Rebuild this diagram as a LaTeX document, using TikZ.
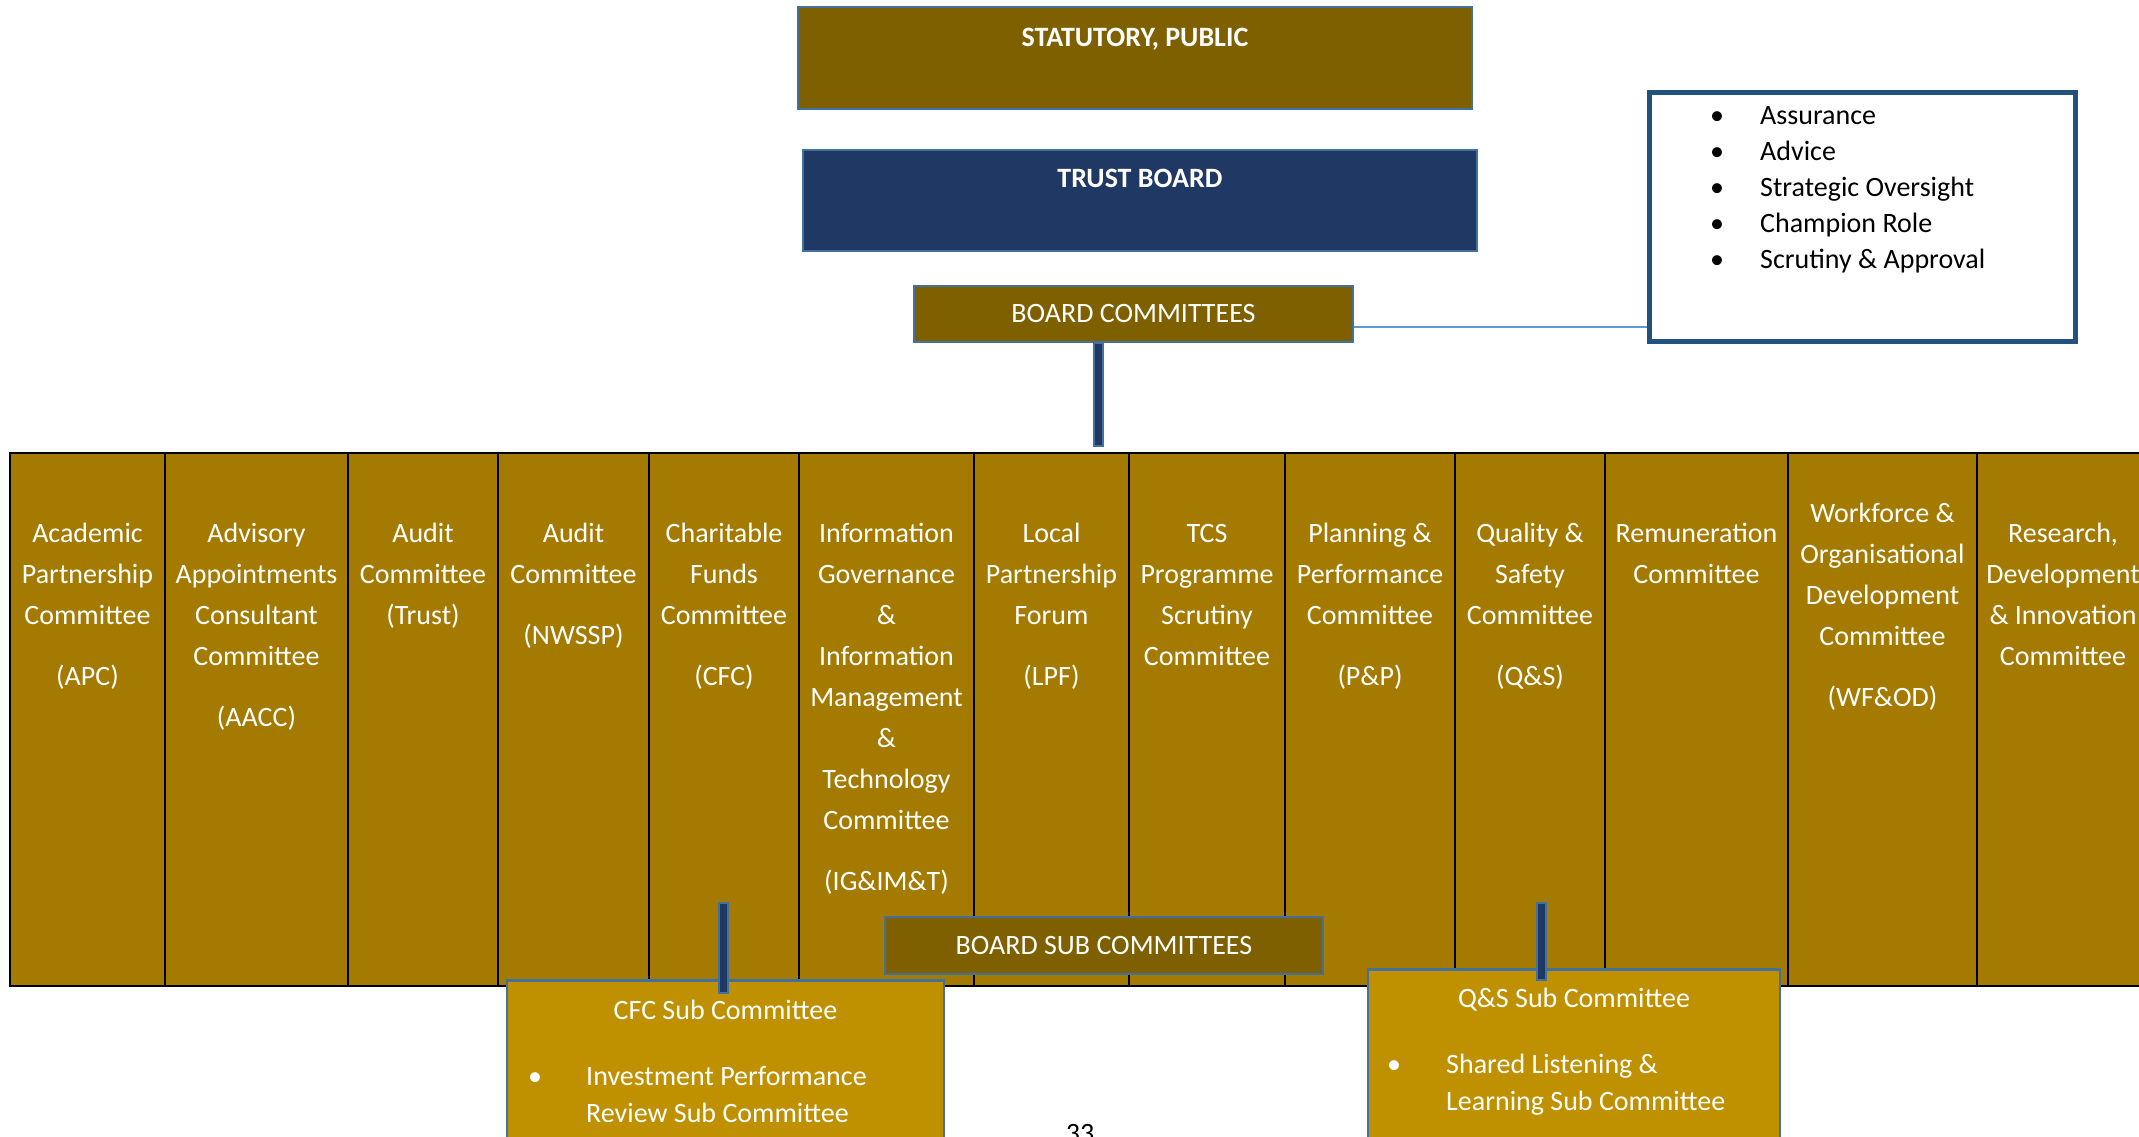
\documentclass[tikz,border=0pt]{standalone}
\usepackage{fontspec}
\setmainfont{Carlito}
\usetikzlibrary{calc}
\definecolor{olivedark}{HTML}{7F6000}
\definecolor{navyfill}{HTML}{203864}
\definecolor{boxblue}{HTML}{41719C}
\definecolor{colgold}{HTML}{A47A00}
\definecolor{subgold}{HTML}{BF9000}
\definecolor{frameblue}{HTML}{22507F}
\definecolor{linkblue}{HTML}{5B9BD5}
\newcommand\fs{\rule{0pt}{20pt}}
\newcommand\blt{\makebox[50pt][l]{•}}
\begin{document}
\begin{tikzpicture}[x=1pt,y=-1pt,
  bigfont/.style={font=\fontsize{28}{41}\selectfont},
  topbox/.style={draw=boxblue, line width=2.5pt, text=white, inner sep=0pt, font=\fontsize{28}{33}\selectfont},
  colbox/.style={draw=black, line width=2.5pt, fill=colgold, minimum height=533pt, inner sep=0pt},
  coltext/.style={bigfont, text=white, align=center, inner sep=0pt, anchor=north},
  subbox/.style={draw=boxblue, line width=2.5pt, fill=subgold, inner sep=0pt},
  subtext/.style={text=white, inner sep=0pt, font=\fontsize{28}{37}\selectfont},
  barshape/.style={draw=boxblue, line width=2pt, fill=navyfill}
]
\clip (0,0) rectangle (2139,1137);
\fill[white] (0,0) rectangle (2139,1137);

% top boxes
\node[topbox, fill=olivedark, minimum width=674pt, text height=40pt, text depth=62pt, font=\fontsize{28}{33}\selectfont\bfseries] (stat) at (1135,58) {STATUTORY, PUBLIC};
\node[topbox, fill=navyfill, minimum width=674pt, text height=37pt, text depth=64pt, font=\fontsize{28}{33}\selectfont\bfseries] (trust) at (1140,200.5) {TRUST BOARD};
\node[topbox, fill=olivedark, minimum width=439pt, minimum height=56pt] (bc) at (1133.5,314) {BOARD COMMITTEES};

% role box
\node[draw=frameblue, line width=5pt, minimum width=426pt, minimum height=248pt, inner sep=0pt] (bl) at (1862,217) {};
\node[anchor=north west, align=left, inner sep=0pt, font=\fontsize{28}{36}\selectfont] (bltext) at (1710,104)
  {\fs\blt Assurance\\\blt Advice\\\blt Strategic Oversight\\\blt Champion Role\\\blt Scrutiny \& Approval};
\draw[linkblue, line width=1.5pt] (bc.east |- 0,327) -- (bl.west |- 0,327);

% committee columns
\node[colbox, minimum width=155pt] (c1) at (87.5,719.5) {};
\node[colbox, minimum width=183pt] (c2) at (256.5,719.5) {};
\node[colbox, minimum width=150pt] (c3) at (423,719.5) {};
\node[colbox, minimum width=151pt] (c4) at (573.5,719.5) {};
\node[colbox, minimum width=150pt] (c5) at (724,719.5) {};
\node[colbox, minimum width=175pt] (c6) at (886.5,719.5) {};
\node[colbox, minimum width=155pt] (c7) at (1051.5,719.5) {};
\node[colbox, minimum width=156pt] (c8) at (1207,719.5) {};
\node[colbox, minimum width=170pt] (c9) at (1370,719.5) {};
\node[colbox, minimum width=150pt] (c10) at (1530,719.5) {};
\node[colbox, minimum width=183pt] (c11) at (1696.5,719.5) {};
\node[colbox, minimum width=189pt] (c12) at (1882.5,719.5) {};
\node[colbox, minimum width=172pt] (c13) at (2063,719.5) {};

\node[coltext] (t1) at ([yshift=-71pt]c1.north) {\fs Academic\\Partnership\\Committee\\[20pt](APC)};
\node[coltext] (t2) at ([yshift=-71pt]c2.north) {\fs Advisory\\Appointments\\Consultant\\Committee\\[20pt](AACC)};
\node[coltext] (t3) at ([yshift=-71pt]c3.north) {\fs Audit\\Committee\\(Trust)};
\node[coltext] (t4) at ([yshift=-71pt]c4.north) {\fs Audit\\Committee\\[20pt](NWSSP)};
\node[coltext] (t5) at ([yshift=-71pt]c5.north) {\fs Charitable\\Funds\\Committee\\[20pt](CFC)};
\node[coltext] (t6) at ([yshift=-71pt]c6.north) {\fs Information\\Governance\\\&\\Information\\Management\\\&\\Technology\\Committee\\[20pt](IG\&IM\&T)};
\node[coltext] (t7) at ([yshift=-71pt]c7.north) {\fs Local\\Partnership\\Forum\\[20pt](LPF)};
\node[coltext] (t8) at ([yshift=-71pt]c8.north) {\fs TCS\\Programme\\Scrutiny\\Committee};
\node[coltext] (t9) at ([yshift=-71pt]c9.north) {\fs Planning \&\\Performance\\Committee\\[20pt](P\&P)};
\node[coltext] (t10) at ([yshift=-71pt]c10.north) {\fs Quality \&\\Safety\\Committee\\[20pt](Q\&S)};
\node[coltext] (t11) at ([yshift=-71pt]c11.north) {\fs Remuneration\\Committee};
\node[coltext] (t12) at ([yshift=-51pt]c12.north) {\fs Workforce \&\\Organisational\\Development\\Committee\\[20pt](WF\&OD)};
\node[coltext] (t13) at ([yshift=-71pt]c13.north) {\fs Research,\\Development\\\& Innovation\\Committee};

% board committees bar
\coordinate (topbarend) at (1098,446);
\draw[barshape] ($(bc.south -| topbarend)+(-4.5,0)$) rectangle ($(topbarend)+(4.5,0)$);

% board sub committees
\node[topbox, fill=olivedark, minimum width=438pt, minimum height=57pt] (bsc) at (1104,945.5) {BOARD SUB COMMITTEES};

% CFC sub committee
\node[subbox, minimum width=437pt, minimum height=220pt, anchor=north] (cfcsub) at (725.5,979) {};
\node[subtext, anchor=base] (cfct) at ([yshift=-40pt]cfcsub.north) {CFC Sub Committee};
\node[subtext, anchor=base] (cfcb) at (535,1085) {•};
\node[subtext, anchor=north west, align=left] (cfcl) at (586,1065) {\fs Investment Performance\\Review Sub Committee};
\coordinate (cfcbartop) at (723,903);
\draw[barshape] ($(cfcbartop)+(-4.5,0)$) rectangle ($(cfcsub.north -| cfcbartop)+(4.5,14)$);

% Q&S sub committee
\node[subbox, minimum width=412pt, minimum height=220pt, anchor=north] (qssub) at (1574,968) {};
\node[subtext, anchor=base] (qst) at ([yshift=-39pt]qssub.north) {Q\&S Sub Committee};
\node[subtext, anchor=base] (qsb) at (1394,1073) {•};
\node[subtext, anchor=north west, align=left] (qsl) at (1446,1053) {\fs Shared Listening \&\\Learning Sub Committee};
\coordinate (qsbartop) at (1541,903);
\draw[barshape] ($(qsbartop)+(-4.5,0)$) rectangle ($(qssub.north -| qsbartop)+(4.5,12)$);

% page number
\node[anchor=base, inner sep=0pt, font=\fontsize{28}{33}\selectfont] (pgnum) at (1080,1142) {33};
\end{tikzpicture}
\end{document}
